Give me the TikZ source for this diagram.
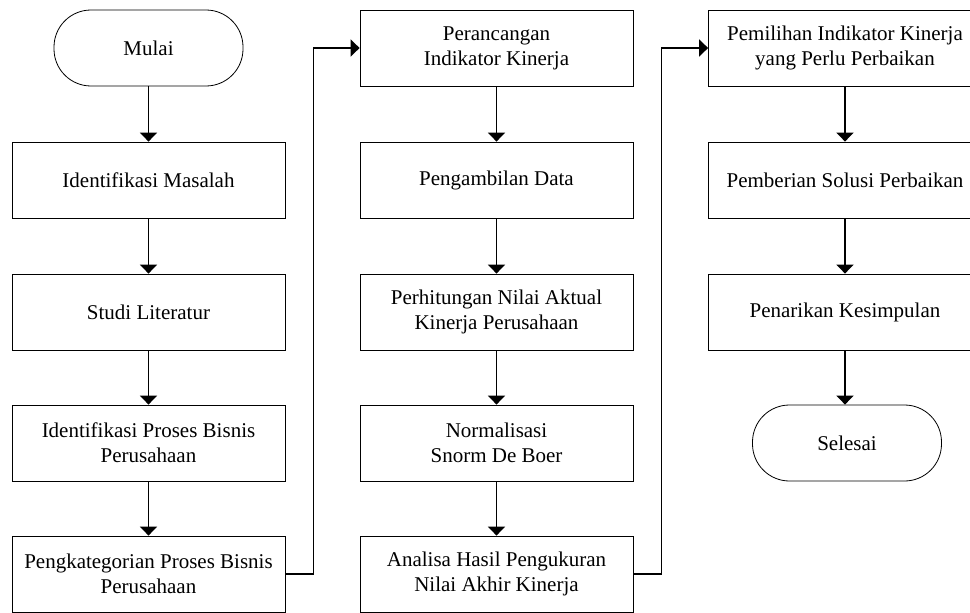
\documentclass[tikz,border=0pt]{standalone}
\usepackage{fontspec}
\setmainfont{Liberation Serif}
\usetikzlibrary{arrows.meta,positioning}
\begin{document}
\begin{tikzpicture}[x=1pt,y=-1pt,
  box/.style={draw=black,line width=0.8pt,minimum width=273pt,minimum height=76pt,
    align=center,inner sep=0pt,font=\fontsize{21}{25}\selectfont},
  term/.style={draw=black,line width=0.8pt,minimum width=189pt,minimum height=76pt,
    rounded corners=37pt,align=center,inner sep=0pt,font=\fontsize{21}{25}\selectfont},
  arr/.style={line width=1.6pt,-{Triangle[width=17pt,length=9pt]}},
  conn/.style={line width=1.6pt}]
\useasboundingbox (0,0) rectangle (970,613);
% left column
\node[term] (mulai) at (148.5,48) {Mulai};
\node[box] (im) at (148.5,180) {Identifikasi Masalah};
\node[box] (sl) at (148.5,312) {Studi Literatur};
\node[box] (ip) at (148.5,443) {Identifikasi Proses Bisnis\\Perusahaan};
\node[box] (pk) at (148.5,574) {Pengkategorian Proses Bisnis\\Perusahaan};
% middle column
\node[box] (pr) at (496.5,48) {Perancangan\\Indikator Kinerja};
\node[box] (pd) at (496.5,180) {Pengambilan Data};
\node[box] (ph) at (496.5,312) {Perhitungan Nilai Aktual\\Kinerja Perusahaan};
\node[box] (nm) at (496.5,443) {Normalisasi\\Snorm De Boer};
\node[box] (an) at (496.5,574) {Analisa Hasil Pengukuran\\Nilai Akhir Kinerja};
% right column
\node[box] (pm) at (845,48) {Pemilihan Indikator Kinerja\\yang Perlu Perbaikan};
\node[box] (ps) at (845,180) {Pemberian Solusi Perbaikan};
\node[box] (pn) at (845,312) {Penarikan Kesimpulan};
\node[term] (sel) at (847,443) {Selesai};
% arrows
\draw[arr] (mulai) -- (im);
\draw[arr] (im) -- (sl);
\draw[arr] (sl) -- (ip);
\draw[arr] (ip) -- (pk);
\draw[arr] (pk.east) -- ++(28,0) |- (pr.west);
\draw[arr] (pr) -- (pd);
\draw[arr] (pd) -- (ph);
\draw[arr] (ph) -- (nm);
\draw[arr] (nm) -- (an);
\draw[arr] (an.east) -- ++(28,0) |- (pm.west);
\draw[arr] (pm) -- (ps);
\draw[arr] (ps) -- (pn);
\draw[arr] (pn.south) -- (pn.south |- sel.north);
\end{tikzpicture}
\end{document}
